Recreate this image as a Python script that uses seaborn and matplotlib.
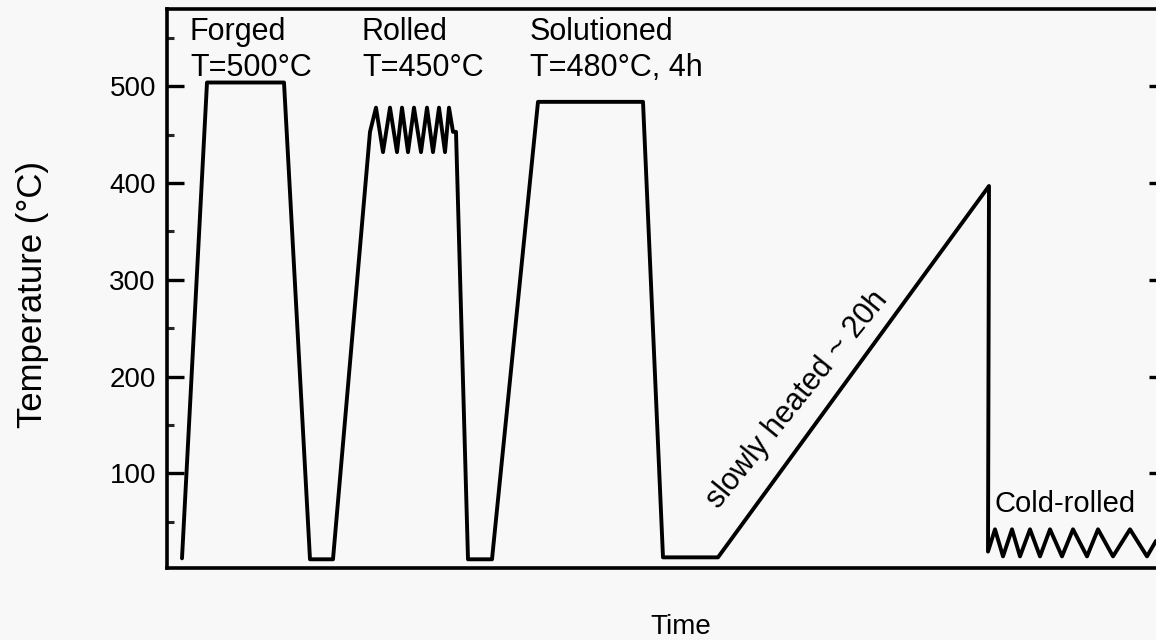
import numpy as np
import pandas as pd
import matplotlib
matplotlib.use("Agg")
import matplotlib.pyplot as plt
import seaborn as sns

# ---- data (time in arbitrary units, temperature in °C) ----
forged_time = [15, 40, 117, 143, 166]
forged_temp = [12, 504, 504, 11, 11]

rolled_time = [203, 209, 216, 223, 230, 235, 241, 247, 254, 260, 266, 272, 278, 282, 286, 289, 301, 325]
rolled_temp = [453, 478, 432, 478, 432, 478, 432, 478, 432, 478, 432, 478, 432, 478, 453, 453, 11, 11]

solution_time = [371, 476, 496, 551]
solution_temp = [484, 484, 13, 13]

slow_time = [822]
slow_temp = [397]

cold_time = [821, 828, 836, 845, 853, 863, 873, 883, 895, 906, 920, 931, 946, 963, 980, 989]
cold_temp = [19, 42, 14, 42, 14, 42, 14, 42, 14, 42, 14, 42, 14, 42, 14, 30]

yticks_major = [100, 200, 300, 400, 500]
yticks_minor = [50, 150, 250, 350, 450, 550]

labels_top = [("Forged", "T=500°C", 23), ("Rolled", "T=450°C", 195), ("Solutioned", "T=480°C, 4h", 363)]

df = pd.DataFrame({
    "time": forged_time + rolled_time + solution_time + slow_time + cold_time,
    "temp": forged_temp + rolled_temp + solution_temp + slow_temp + cold_temp,
})

sns.set_style("ticks")
plt.rcParams["font.family"] = ["Liberation Sans", "DejaVu Sans"]
plt.rcParams["text.color"] = "black"
plt.rcParams["axes.labelcolor"] = "black"

fig = plt.figure(figsize=(11.56, 6.4), dpi=100, facecolor="#f8f8f8")
ax = fig.add_axes([167 / 1156, 72 / 640, (1166 - 167) / 1156, 559 / 640])
ax.set_facecolor("#f8f8f8")

sns.lineplot(data=df, x="time", y="temp", sort=False, estimator=None,
             color="black", linewidth=2.8, ax=ax)

ax.set_xlim(0, 999)
ax.set_ylim(2, 580)
ax.set_xticks([])
ax.set_yticks(yticks_major)
ax.set_yticks(yticks_minor, minor=True)
ax.tick_params(axis="y", which="major", direction="in", length=12, width=2.4,
               labelsize=20, pad=8, right=True, colors="black")
ax.tick_params(axis="y", which="minor", direction="in", length=5, width=2.2,
               right=False)
for s in ax.spines.values():
    s.set_linewidth(2.6)
    s.set_color("black")

ax.set_ylabel("Temperature (°C)", fontsize=25, color="black")
ax.yaxis.set_label_coords(-0.118, 0.49)
ax.set_xlabel("Time", fontsize=20, color="black")
ax.xaxis.set_label_coords(0.514, -0.083)

for line1, line2, x in labels_top:
    ax.text(x, 548, line1, fontsize=22, ha="left", va="baseline", color="black")
    ax.text(x, 511, line2, fontsize=22, ha="left", va="baseline", color="black")

ax.text(828, 60, "Cold-rolled", fontsize=21, ha="left", va="baseline", color="black")
ax.text(552, 62, "slowly heated ~ 20h", fontsize=22, ha="left", va="baseline",
        rotation=51, rotation_mode="anchor", color="black")

fig.savefig("out.png", dpi=100, facecolor=fig.get_facecolor())
